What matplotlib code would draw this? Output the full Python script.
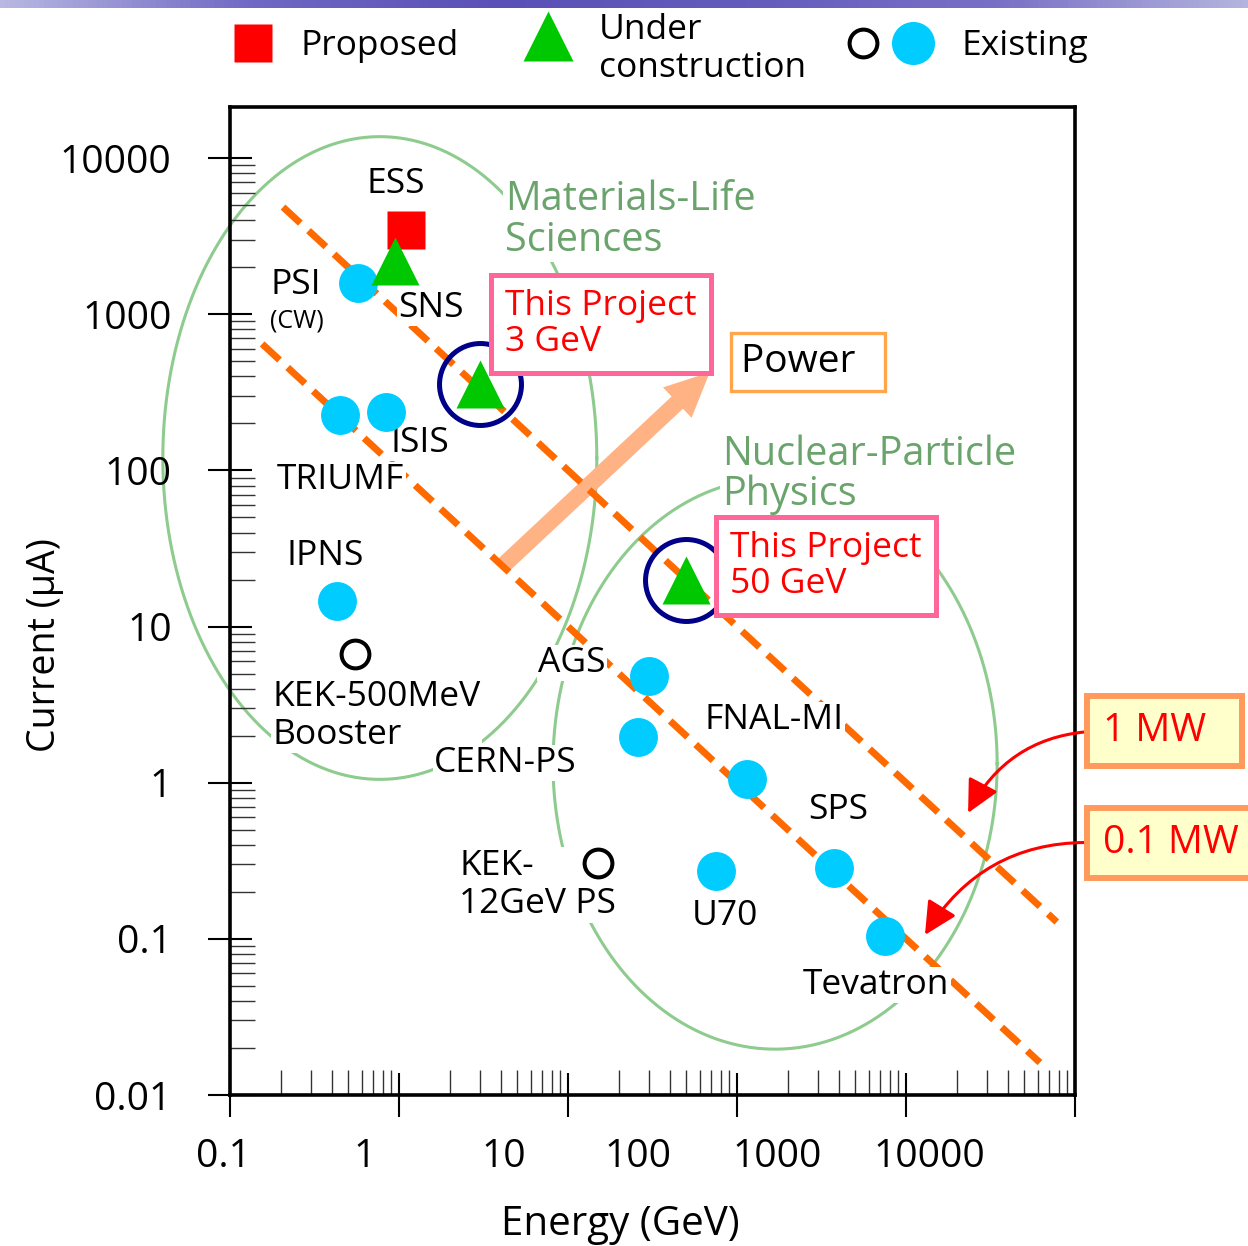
import matplotlib.pyplot as plt
import numpy as np
import matplotlib.transforms as mtransforms
from matplotlib.lines import Line2D
from matplotlib.markers import MarkerStyle
from matplotlib.legend_handler import HandlerTuple
from matplotlib.ticker import FixedLocator, NullFormatter
from matplotlib.colors import LinearSegmentedColormap

plt.rcParams['font.family'] = ['Open Sans', 'DejaVu Sans']

# Proton accelerators: beam energy (GeV) vs average beam current (uA)
proposed_names = ['ESS']
proposed_energy = [1.1]
proposed_current = [3450]

construction_names = ['SNS', 'This Project 3 GeV', 'This Project 50 GeV']
construction_energy = [0.95, 3, 50]
construction_current = [2200, 360, 20]

existing_names = ['PSI', 'TRIUMF', 'ISIS', 'IPNS', 'AGS', 'CERN-PS',
                  'FNAL-MI', 'U70', 'SPS', 'Tevatron']
existing_energy = [0.57, 0.45, 0.84, 0.43, 30, 26, 115, 75, 375, 750]
existing_current = [1580, 225, 235, 14.5, 4.8, 1.97, 1.06, 0.27, 0.285, 0.104]

kek_names = ['KEK-500MeV Booster', 'KEK-12GeV PS']
kek_energy = [0.55, 15]
kek_current = [6.7, 0.307]

# constant beam power lines (kW = GeV * uA)
power_kw = [1000, 100]
power_labels = ['1 MW  ', '0.1 MW']
power_energy_range = [[0.206, 7800], [0.155, 6200]]
power_pointer_energy = [2330, 1295]
power_pointer_current = [0.64, 0.106]

# "Power" arrow, from lower to upper line
power_arrow_from = (4.2, 25)
power_arrow_to = (69, 425)

# research field regions: centre (GeV, uA) and half-widths in decades
region_names = ['Materials-Life\nSciences', 'Nuclear-Particle\nPhysics']
region_center = [(0.77, 120), (168, 1.32)]
region_halfwidth = [(1.284, 2.058), (1.314, 1.827)]

x_ticks = [0.1, 1, 10, 100, 1000, 10000]
x_tick_labels = ['0.1', '1', '10', '100', '1000', '10000']
x_label_shift = [-5, -25, -46, -71, -93, -105]
y_ticks = [0.01, 0.1, 1, 10, 100, 1000, 10000]
y_tick_labels = ['0.01', '0.1', '1', '10', '100', '1000', '10000']

W, H = 1248, 1246


def fig_xy(x, y):
    return x / W, 1 - y / H


fig = plt.figure(figsize=(W / 100, H / 100), dpi=100)
fig.patch.set_facecolor('white')

# slide header band
band = fig.add_axes([0, 1 - 8 / H, 1, 8 / H])
band.axis('off')
band_cmap = LinearSegmentedColormap.from_list(
    'band', ['#b8b8e2', '#7068c4', '#5a50b6', '#645cbc', '#7870c6', '#b4b4de'])
band.imshow(np.linspace(0, 1, 256)[None, :], aspect='auto', cmap=band_cmap)

ax = fig.add_axes([230 / W, 1 - 1095 / H, 845 / W, 988 / H])
ax.set_xscale('log')
ax.set_yscale('log')
ax.set_xlim(0.1, 1e4)
ax.set_ylim(0.01, 10 ** 4.327)

for s in ax.spines.values():
    s.set_linewidth(2.6)

ax.set_xticks(x_ticks)
ax.set_yticks(y_ticks, labels=y_tick_labels)
ax.xaxis.set_minor_locator(FixedLocator(
    [m * 10.0 ** k for k in range(-1, 4) for m in range(2, 10)]))
ax.yaxis.set_minor_locator(FixedLocator(
    [m * 10.0 ** k for k in range(-2, 4) for m in range(2, 10)]))
ax.xaxis.set_minor_formatter(NullFormatter())
ax.yaxis.set_minor_formatter(NullFormatter())
ax.tick_params(which='major', direction='inout', length=32, width=1.5)
ax.tick_params(which='minor', direction='in', length=18, width=1.0, color='#333333')
ax.tick_params(axis='y', which='major', labelsize=28, pad=26)
ax.tick_params(axis='x', labelbottom=False)

# x tick labels sit to the left of their ticks
xtrans = mtransforms.blended_transform_factory(ax.transData, ax.transAxes)
for x, s, dx in zip(x_ticks, x_tick_labels, x_label_shift):
    ax.text(x, 0, s, fontsize=28, ha='center', va='top', clip_on=False,
            transform=xtrans + mtransforms.ScaledTranslation(dx / 72, -31 / 72, fig.dpi_scale_trans))

ax.set_xlabel('Energy (GeV)', fontsize=29)
ax.xaxis.set_label_coords(0.4615, -0.111)
ax.set_ylabel('Current (μA)', fontsize=27, va='center')
ax.yaxis.set_label_coords(-0.219, 0.4555)

# field regions
t = np.linspace(0, 2 * np.pi, 400)
for (ce, ci), (a, b) in zip(region_center, region_halfwidth):
    ax.plot(10 ** (np.log10(ce) + a * np.cos(t)), 10 ** (np.log10(ci) + b * np.sin(t)),
            color='#8ecb8e', lw=2.2, zorder=1, clip_on=False)

# power arrow
ax.annotate('', xy=power_arrow_to, xytext=power_arrow_from,
            arrowprops=dict(arrowstyle='simple,head_length=0.8,head_width=0.75,tail_width=0.3',
                            mutation_scale=40, fc='#ffb283', ec='none',
                            shrinkA=0, shrinkB=0), zorder=1.5)

# constant power lines
for p, (e0, e1) in zip(power_kw, power_energy_range):
    e = np.array([e0, e1])
    ax.plot(e, p / e, color='#ff6a00', lw=5, dashes=(3.4, 1.6), zorder=2,
            dash_capstyle='butt')

# facilities
ax.plot(existing_energy, existing_current, 'o', ms=28, color='#00ccff', mec='none', zorder=4)
ax.plot(kek_energy, kek_current, 'o', ms=20, mfc='none', mec='black', mew=2.9, zorder=4)
ax.plot(construction_energy, construction_current, '^', ms=35, color='#00c800', mec='none', zorder=4)
ax.plot(proposed_energy, proposed_current, 's', ms=28, color='#ff0000', mec='none', zorder=3.9)
# rings around this project
ax.plot(construction_energy[1:], construction_current[1:], 'o', ms=59, mfc='none',
        mec='#000088', mew=3.6, zorder=4.5)


def label(x, y, s, size=25.5, color='black', ha='left', bg=True, **kw):
    bbox = dict(facecolor='white', edgecolor='none', pad=1) if bg else None
    ax.text(*fig_xy(x, y), s, transform=fig.transFigure, fontsize=size, color=color,
            ha=ha, va='center', bbox=bbox, zorder=3, **kw)


label(396, 184, 'ESS', ha='center')
label(270, 285, 'PSI')
label(270, 321, '(CW)', size=18)
label(398, 308, 'SNS')
label(277, 480, 'TRIUMF')
label(390, 443, 'ISIS')
label(287, 556, 'IPNS')
label(272, 716, 'KEK-500MeV\nBooster', linespacing=1.13)
label(538, 663, 'AGS')
label(434, 763, 'CERN-PS')
label(704, 720, 'FNAL-MI')
label(808, 810, 'SPS')
label(459, 885, 'KEK-\n12GeV PS', linespacing=1.19)
label(692, 916, 'U70')
label(803, 985, 'Tevatron')

label(505, 220, region_names[0], size=28.5, color='#6aa46c', linespacing=1.02)
label(722, 475, region_names[1], size=28.5, color='#6aa46c', linespacing=0.98)

pink = dict(boxstyle='square,pad=0.4', fc='white', ec='#ff6699', lw=3.6)
ax.text(*fig_xy(505, 324), 'This Project\n3 GeV', transform=fig.transFigure, fontsize=25.5,
        color='#ff0000', va='center', linespacing=1.04, bbox=pink, zorder=5)
ax.text(*fig_xy(730, 566), 'This Project\n50 GeV', transform=fig.transFigure, fontsize=25.5,
        color='#ff0000', va='center', linespacing=1.04, bbox=pink, zorder=5)
ax.text(*fig_xy(741, 362), 'Power  ', transform=fig.transFigure, fontsize=28, va='center',
        bbox=dict(boxstyle='square,pad=0.25', fc='white', ec='#ffa64d', lw=2.4), zorder=5)

for s, ey, cy, ty in zip(power_labels, power_pointer_energy, power_pointer_current, [731, 843]):
    ax.annotate(s, xy=(ey, cy), xytext=fig_xy(1103, ty), textcoords='figure fraction',
                fontsize=28, color='#ff0000', ha='left', va='center',
                bbox=dict(boxstyle='square,pad=0.4', fc='#ffffcc', ec='#ff9a5c', lw=4.3),
                arrowprops=dict(arrowstyle='-|>', color='#ff0000', lw=2.2, mutation_scale=50,
                                connectionstyle='arc3,rad=0.3', relpos=(0, 0.5),
                                shrinkA=0, shrinkB=0),
                annotation_clip=False, zorder=6)

# key: one legend per entry so each can sit on its own
h_prop = Line2D([], [], ls='', marker='s', ms=28, mfc='#ff0000', mec='none')
h_cons = Line2D([], [], ls='', ms=36, mfc='#00c800', mec='none',
                marker=MarkerStyle('^', transform=mtransforms.Affine2D().translate(0, 0.28)))
h_open = Line2D([], [], ls='', marker='o', ms=20, mfc='none', mec='black', mew=2.9)
h_cyan = Line2D([], [], ls='', marker='o', ms=31, mfc='#00ccff', mec='none')

key_common = dict(loc='center left', frameon=False, fontsize=25.5,
                  borderpad=0, borderaxespad=0)
fig.legend([h_prop], ['Proposed'], bbox_to_anchor=fig_xy(208, 46),
           handlelength=2.54, handletextpad=0.06, **key_common)
leg_cons = fig.legend([h_cons], ['Under\nconstruction'], bbox_to_anchor=fig_xy(503, 49),
                      handlelength=2.54, handletextpad=0.16, **key_common)
for txt in leg_cons.get_texts():
    txt.set_linespacing(1.13)
fig.legend([(h_open, h_cyan)], ['Existing'], bbox_to_anchor=fig_xy(838, 46),
           handlelength=2.82, handletextpad=0.68,
           handler_map={tuple: HandlerTuple(ndivide=None, pad=0)}, **key_common)

fig.savefig('out.png', dpi=100)
